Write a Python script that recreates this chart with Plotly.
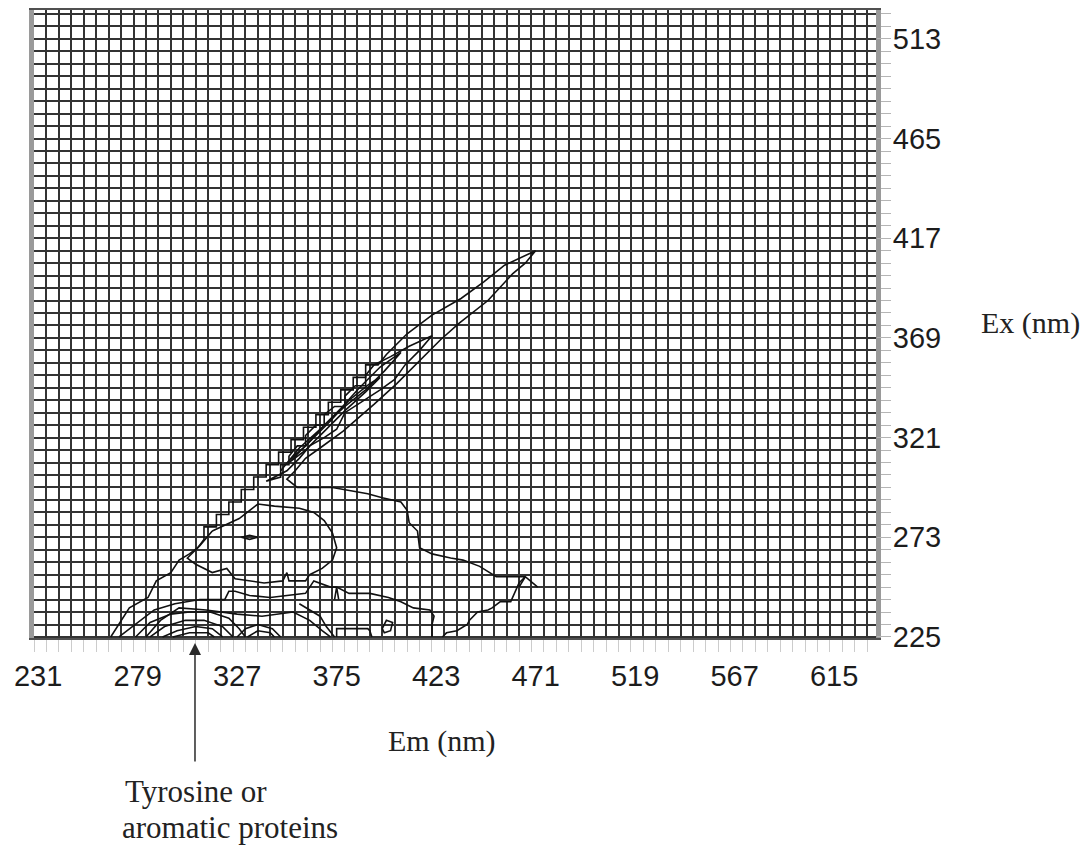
import plotly.graph_objects as go

# ---------------- data (Em, Ex in nm) ----------------
x_ticks = [231, 279, 327, 375, 423, 471, 519, 567, 615]
y_ticks = [225, 273, 321, 369, 417, 465, 513]
grid_step = 6  # nm between grid lines (both axes)

# outermost contour: diagonal scatter band + broad humic-like region
outer_em = [266, 275, 284, 288, 295, 299, 304, 308, 311, 311, 317, 317, 323, 323, 329, 329,
            335, 335, 341, 341, 347, 347, 353, 353, 359, 359, 365, 365, 371, 371, 377, 377,
            383, 383, 389, 389, 395, 399, 409, 421, 435, 446, 456, 471, 466, 460, 448, 434,
            425, 414, 404, 393, 378, 367, 360, 355, 351, 356, 373, 390, 397, 406, 409, 410,
            414, 415, 421, 430, 436, 444, 452, 460, 466, 463, 460, 459, 454, 450, 448, 443,
            439, 438, 433, 428, 426]
outer_ex = [225, 239, 244, 252, 256, 262, 265, 268, 272, 278, 278, 284, 284, 290, 290, 296,
            296, 302, 302, 308, 308, 314, 314, 320, 320, 326, 326, 332, 332, 338, 338, 344,
            344, 350, 350, 356, 356, 361, 371, 380, 388, 396, 404, 411, 405, 400, 387, 376,
            368, 357, 347, 337, 324, 316, 311, 305, 301, 297, 297, 294, 292, 290, 286, 280,
            276, 268, 265, 263, 262, 259, 254, 254, 254, 251, 244, 242, 242, 239, 238, 237,
            233, 231, 228, 227, 225]

band2_em = [341, 348, 348, 352, 352, 356, 360, 360, 365, 369, 369, 374, 379, 379, 384, 389,
            389, 393, 401, 410, 421, 415, 408, 403, 396, 390, 384, 379, 375, 369, 362, 357,
            351, 341]
band2_ex = [300, 302, 308, 308, 312, 317, 317, 322, 327, 327, 332, 336, 336, 341, 346, 346,
            351, 356, 360, 365, 370, 363, 356, 349, 344, 340, 336, 333, 325, 321, 317, 311,
            305, 300]

band3_em = [348, 357, 367, 377, 386, 396, 406, 398, 389, 379, 369, 360, 352, 348]
band3_ex = [305, 316, 325, 335, 345, 355, 362, 353, 344, 336, 327, 317, 310, 305]

band4_em = [352, 362, 372, 381, 391, 396, 389, 379, 369, 360, 352]
band4_ex = [309, 319, 329, 339, 347, 350, 343, 334, 324, 315, 309]

hump_em = [315, 328, 337, 345, 357, 364, 369, 373, 375, 373, 368, 362, 360, 352, 351, 349,
           340, 333, 326, 322, 315, 307, 303, 309, 315]
hump_ex = [276, 282, 289, 288, 287, 285, 281, 275, 268, 262, 258, 255, 252, 252, 256, 252,
           251, 252, 253, 258, 256, 260, 263, 269, 276]

blob_em = [329, 333, 337, 333, 329]
blob_ex = [273, 274, 273, 272, 273]

mid_em = [270, 279, 287, 297, 309, 321, 323, 326, 333, 343, 352, 360, 364, 367, 372, 375,
          381, 391, 400, 406, 412, 420, 422, 421, 421]
mid_ex = [225, 232, 238, 241, 243, 243, 247, 247, 245, 244, 245, 246, 252, 251, 249, 249,
          246, 246, 244, 242, 239, 238, 235, 231, 225]

spike_em = [374, 375, 376]
spike_ex = [243, 249, 243]

low_em = [283, 290, 299, 312, 327, 339, 354, 362, 368, 372]
low_ex = [225, 233, 239, 238, 236, 235, 237, 233, 228, 225]

low2_em = [357, 362, 367, 370, 374]
low2_ex = [241, 238, 235, 230, 225]

bump_em = [375, 375, 381, 390, 391, 392]
bump_ex = [225, 229, 229, 229, 228, 225]

isl_em = [397, 399, 402, 401, 398, 397]
isl_ex = [229, 233, 232, 228, 227, 229]

tipspike_em = [463, 466, 472]
tipspike_ex = [249, 254, 249]

# nested arcs of the tyrosine peak
arc_a_em = [278, 285, 295, 304, 314, 323, 328, 331]
arc_a_ex = [225, 232, 236, 237, 237, 234, 229, 225]
arc_b_em = [285, 292, 302, 311, 320, 325]
arc_b_ex = [225, 230, 233, 233, 230, 225]
arc_c_em = [291, 298, 307, 315, 320]
arc_c_ex = [225, 228, 230, 229, 225]
arc_d_em = [296, 304, 313, 316]
arc_d_ex = [225, 227, 227, 225]
arc_e_em = [327, 331, 337, 344, 348]
arc_e_ex = [225, 229, 231, 229, 225]
arc_f_em = [332, 337, 343, 345]
arc_f_ex = [225, 228, 227, 225]

contours = [
    (outer_em, outer_ex), (band2_em, band2_ex), (band3_em, band3_ex), (band4_em, band4_ex),
    (hump_em, hump_ex), (blob_em, blob_ex), (mid_em, mid_ex), (spike_em, spike_ex),
    (low_em, low_ex), (low2_em, low2_ex), (bump_em, bump_ex), (isl_em, isl_ex),
    (tipspike_em, tipspike_ex), (arc_a_em, arc_a_ex), (arc_b_em, arc_b_ex),
    (arc_c_em, arc_c_ex), (arc_d_em, arc_d_ex), (arc_e_em, arc_e_ex), (arc_f_em, arc_f_ex),
]

# ---------------- figure ----------------
fig = go.Figure()
for em, ex in contours:
    fig.add_trace(go.Scatter(x=em, y=ex, mode="lines",
                             line=dict(color="#111111", width=1.6),
                             hoverinfo="skip", showlegend=False))
# invisible trace on the label axes so they are drawn
fig.add_trace(go.Scatter(x=[x_ticks[0]], y=[y_ticks[0]], xaxis="x2", yaxis="y2",
                         mode="markers", marker=dict(opacity=0), hoverinfo="skip",
                         showlegend=False))

tick_font = dict(family="Liberation Sans, Arial, sans-serif", size=29, color="#1c1c1c")
serif = "Liberation Serif, Times New Roman, serif"
x_range = [229, 635.2]
y_range = [224.5, 526.9]
grid_color = "#333333"

fig.update_layout(
    width=1090, height=848,
    margin=dict(l=34, r=214, t=8, b=210),
    paper_bgcolor="white", plot_bgcolor="white",
    showlegend=False,
    # grid axes: one line every 6 nm
    xaxis=dict(range=x_range, tickmode="linear", tick0=229, dtick=grid_step,
               showticklabels=False, ticks="outside", ticklen=12,
               tickcolor="#cccccc", tickwidth=1,
               showgrid=True, gridcolor=grid_color, gridwidth=1.7, zeroline=False,
               showline=True, linecolor="#505050", linewidth=1.5, mirror=True),
    yaxis=dict(range=y_range, side="right", tickmode="linear", tick0=225, dtick=grid_step,
               showticklabels=False, ticks="outside", ticklen=10,
               tickcolor="#b5b5b5", tickwidth=1,
               showgrid=True, gridcolor=grid_color, gridwidth=1.7, zeroline=False,
               showline=True, linecolor="#9a9a9a", linewidth=5, mirror=True),
    # label axes
    xaxis2=dict(range=x_range, overlaying="x", anchor="y", side="bottom",
                tickmode="array", tickvals=x_ticks, ticktext=[str(v) for v in x_ticks],
                tickfont=tick_font, ticks="outside", ticklen=12,
                tickcolor="rgba(0,0,0,0)", showgrid=False, zeroline=False,
                showline=False),
    yaxis2=dict(range=y_range, overlaying="y", anchor="x", side="right",
                tickmode="array", tickvals=y_ticks, ticktext=[str(v) for v in y_ticks],
                tickfont=tick_font, ticks="outside", ticklen=10,
                tickcolor="#b5b5b5", showgrid=False, zeroline=False,
                showline=False),
)

fig.add_annotation(text="Ex (nm)", xref="paper", yref="paper", x=1.184, y=0.502,
                   xanchor="center", yanchor="middle", showarrow=False,
                   font=dict(family=serif, size=30, color="#222"))
fig.add_annotation(text="Em (nm)", xref="paper", yref="paper", x=0.4834, y=-0.1635,
                   xanchor="center", yanchor="middle", showarrow=False,
                   font=dict(family=serif, size=30, color="#222"))
fig.add_annotation(text="", xref="paper", yref="paper", x=0.1912, y=-0.008,
                   ax=0, ay=120, showarrow=True, arrowhead=2, arrowsize=1.6,
                   arrowwidth=1.5, arrowcolor="#2a2a2a")
fig.add_annotation(text="Tyrosine or", xref="paper", yref="paper", x=0.1057, y=-0.2444,
                   xanchor="left", yanchor="middle", showarrow=False,
                   font=dict(family=serif, size=31, color="#222"))
fig.add_annotation(text="aromatic proteins", xref="paper", yref="paper", x=0.1021, y=-0.3016,
                   xanchor="left", yanchor="middle", showarrow=False,
                   font=dict(family=serif, size=31, color="#222"))

fig.write_html("out.html")
